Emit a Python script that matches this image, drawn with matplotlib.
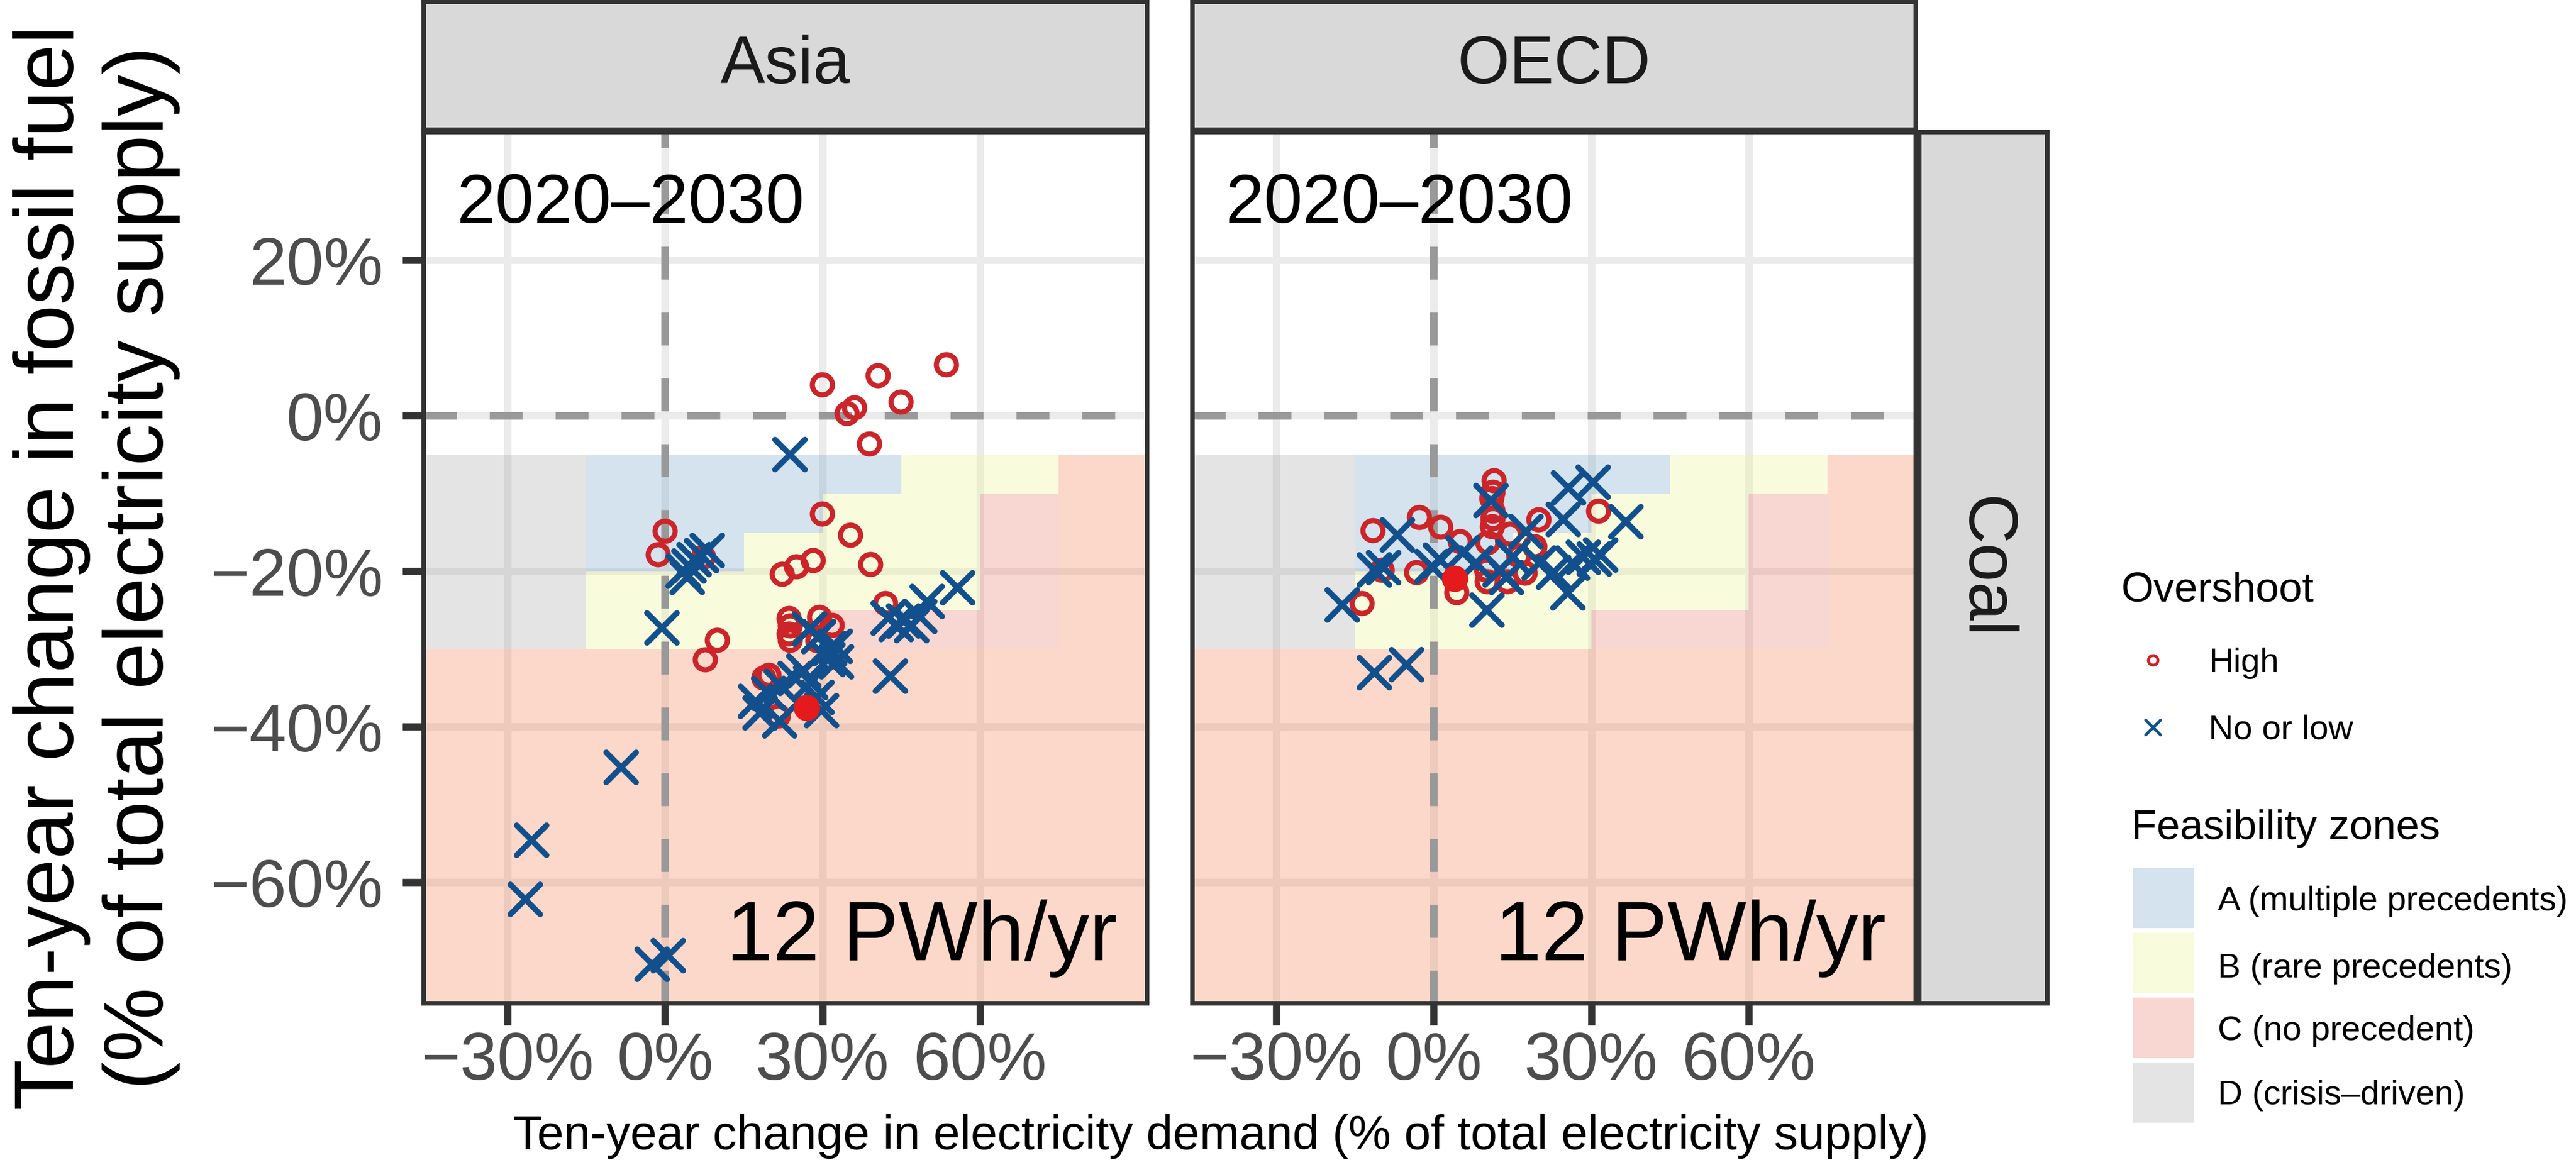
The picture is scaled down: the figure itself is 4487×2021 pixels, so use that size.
import matplotlib
matplotlib.use("Agg")
import matplotlib.pyplot as plt
from matplotlib.colors import ListedColormap, to_rgb
from matplotlib.markers import MarkerStyle
from matplotlib.patches import Rectangle

plt.rcParams['font.family'] = ['Liberation Sans', 'DejaVu Sans']

W, H, DPI = 4487, 2021, 300

# ---- data ---------------------------------------------------------------
regions = ['Asia', 'OECD']
fuel = 'Coal'
period_label = '2020–2030'
volume_label = '12 PWh/yr'

x_ticks = [-30, 0, 30, 60]
x_labels = ['−30%', '0%', '30%', '60%']
y_ticks = [20, 0, -20, -40, -60]
y_labels = ['20%', '0%', '−20%', '−40%', '−60%']

# feasibility zone grid (rows bottom -> top), E = outer "no precedent" area
zone_x_edges = [-50, -30, -15, 0, 15, 30, 45, 60, 75, 100]
zone_y_edges = [-80, -30, -25, -20, -15, -10, -5]
zone_rows = [
    'EEEEEEEEE',
    'DDBBBCCCE',
    'DDBBBBBCE',
    'DDAABBBCE',
    'DDAAABBCE',
    'DDAAAABBE',
]
zone_codes = ['A', 'B', 'C', 'D', 'E']
zone_names = ['A (multiple precedents)', 'B (rare precedents)',
              'C (no precedent)', 'D (crisis–driven)']
zone_colors = ['#D6E4F0', '#FAFCDE', '#F9D7D2', '#E5E5E5', '#FDD9CB']

# Asia
asia_high_x = [29.9, 40.5, 53.6, 44.9, 36.1, 34.6, 38.9, 29.9, 35.3, 39.1, 28.2, 25.0,
               22.3, 0.0, -1.4, 7.3, 42.0, 9.9, 7.6, 23.6, 23.8, 23.6, 23.8, 29.4,
               31.8, 29.1, 18.8, 19.7, 21.5]
asia_high_y = [4.0, 5.2, 6.6, 1.8, 1.1, 0.3, -3.6, -12.6, -15.3, -19.1, -18.6, -19.4,
               -20.3, -14.8, -17.8, -18.1, -24.1, -28.8, -31.3, -26.0, -27.0, -28.0,
               -28.8, -25.9, -26.9, -28.9, -33.7, -33.3, -38.6]
asia_low_x = [-8.4, -25.4, -26.6, -2.5, 0.6, 23.8, -0.6, 3.5, 4.5, 5.5, 7.0, 8.0, 4.2,
              55.7, 50.0, 42.5, 44.0, 45.5, 47.0, 48.5, 42.9, 32.4, 32.7, 17.2, 19.7,
              22.2, 24.8, 26.4, 27.7, 28.9, 29.8, 18.1, 21.8, 27.5, 29.3, 31.4, 31.0]
asia_low_y = [-45.2, -54.6, -62.2, -70.5, -69.4, -5.0, -27.3, -20.0, -19.3, -18.5,
              -18.0, -17.3, -20.8, -22.1, -23.9, -26.0, -26.8, -26.4, -27.0, -25.8,
              -33.5, -29.6, -31.6, -36.7, -35.7, -34.8, -33.8, -32.8, -34.3, -36.2,
              -37.9, -38.2, -39.2, -27.4, -28.4, -29.9, -31.3]
asia_ref = (27.0, -37.5)

# OECD
oecd_high_x = [-11.7, -2.8, 1.3, 5.0, 11.45, 11.2, 11.0, 11.2, 11.2, 11.1, 20.0, 31.3,
               10.2, 19.2, 16.1, 14.5, 17.4, 14.0, 10.1, 10.0, -9.9, -3.3, -13.7, 4.3]
oecd_high_y = [-14.75, -13.0, -14.3, -16.15, -8.3, -9.75, -10.6, -12.2, -13.2, -14.2,
               -13.3, -12.2, -16.3, -16.8, -18.0, -15.2, -20.2, -21.3, -21.3, -19.8,
               -19.8, -20.1, -24.1, -22.7]
oecd_low_x = [-6.9, -9.6, -11.3, -17.4, -11.3, -5.2, 1.3, 10.9, 25.7, 30.4, 24.7, 36.65,
              17.6, 15.1, 22.8, 25.6, 10.1, 28.5, 30.6, 31.8, 26.4, 13.8, 12.6, 8.0,
              20.1, 5.5, -0.4]
oecd_low_y = [-15.3, -19.5, -19.8, -24.3, -33.0, -32.0, -18.6, -10.9, -9.3, -8.5, -13.3,
              -13.6, -14.9, -18.1, -20.1, -22.8, -25.0, -18.2, -18.4, -17.9, -18.9,
              -20.8, -19.8, -18.9, -18.9, -17.6, -19.35]
oecd_ref = (4.0, -20.9)

points = {
    'Asia': (asia_high_x, asia_high_y, asia_low_x, asia_low_y, asia_ref),
    'OECD': (oecd_high_x, oecd_high_y, oecd_low_x, oecd_low_y, oecd_ref),
}

# ---- style --------------------------------------------------------------
RED = '#CC2529'
BLUE = '#11508C'
REF = '#E41A1C'
BORDER = '#333333'
ZONE_ALPHA = 0.3


def base_color(c):
    # colour that gives c on white at ZONE_ALPHA
    r = [(v - (1 - ZONE_ALPHA)) / ZONE_ALPHA for v in to_rgb(c)]
    return tuple(min(1, max(0, v)) for v in r)


zone_cmap = ListedColormap([base_color(c) for c in zone_colors])
zone_grid = [[zone_codes.index(ch) for ch in row] for row in zone_rows]


def box(x0, y0, x1, y1):
    return [x0 / W, 1 - y1 / H, (x1 - x0) / W, (y1 - y0) / H]


fig = plt.figure(figsize=(W / DPI, H / DPI), dpi=DPI)

panel_px = {'Asia': (738, 1998), 'OECD': (2077, 3337)}
top, bottom = 230, 1748
x_mark = MarkerStyle('x', capstyle='round')

for i, reg in enumerate(regions):
    x0, x1 = panel_px[reg]
    ax = fig.add_axes(box(x0, top, x1, bottom))
    ax.set_xlim(-46.0, 91.85)
    ax.set_ylim(-75.54, 36.49)
    ax.set_axisbelow(True)
    ax.grid(True, color='#EBEBEB', lw=3.1)

    ax.pcolormesh(zone_x_edges, zone_y_edges, zone_grid, cmap=zone_cmap,
                  vmin=-0.5, vmax=len(zone_codes) - 0.5, alpha=ZONE_ALPHA,
                  antialiased=False, edgecolors='none', zorder=1)

    ax.axhline(0, color='#999999', lw=3.2, ls=(0, (4.3, 4.3)), zorder=1.5)
    ax.axvline(0, color='#999999', lw=3.2, ls=(0, (4.3, 4.3)), zorder=1.5)

    hx, hy, lx, ly, ref = points[reg]
    ax.plot(hx, hy, ls='none', marker='o', ms=8.4, mfc='none', mec=RED, mew=2.15, zorder=3)
    ax.plot(lx, ly, ls='none', marker=x_mark, ms=12.5, mec=BLUE, mew=2.4, zorder=3)
    ax.plot([ref[0]], [ref[1]], ls='none', marker='o', ms=11, color=REF, mew=0, zorder=4)

    ax.text(0.0456, 0.8959, period_label, transform=ax.transAxes, ha='left',
            va='baseline', fontsize=29, color='black', zorder=5)
    ax.text(0.959, 0.0494, volume_label, transform=ax.transAxes, ha='right',
            va='baseline', fontsize=35, color='black', zorder=5)

    for s in ax.spines.values():
        s.set_color(BORDER)
        s.set_linewidth(1.9)
        s.set_zorder(6)

    ax.set_xticks(x_ticks)
    ax.set_xticklabels(x_labels)
    ax.set_yticks(y_ticks)
    ax.tick_params(axis='both', direction='out', length=9, width=3, color=BORDER,
                   labelsize=28, labelcolor='#4D4D4D')
    ax.tick_params(axis='x', pad=2.5)
    ax.tick_params(axis='y', pad=8)
    if i == 0:
        ax.set_yticklabels(y_labels)
    else:
        ax.tick_params(axis='y', left=False, labelleft=False)

    # strip on top
    sax = fig.add_axes(box(x0, 3, x1, 226))
    sax.set_facecolor('#D9D9D9')
    sax.set_xticks([])
    sax.set_yticks([])
    for s in sax.spines.values():
        s.set_color(BORDER)
        s.set_linewidth(1.9)
    sax.text(0.5, 0.5, reg, transform=sax.transAxes, ha='center', va='center',
             fontsize=28, color='#1A1A1A')

# right strip
rax = fig.add_axes(box(3343, top, 3566, bottom))
rax.set_facecolor('#D9D9D9')
rax.set_xticks([])
rax.set_yticks([])
for s in rax.spines.values():
    s.set_color(BORDER)
    s.set_linewidth(1.9)
rax.text(0.5, 0.5, fuel, transform=rax.transAxes, ha='center', va='center',
         rotation=270, fontsize=29, color='#1A1A1A')

# axis titles
fig.text(168 / W, 1 - 989 / H,
         'Ten-year change in fossil fuel\n(% of total electricity supply)',
         rotation=90, ha='center', va='center', fontsize=35, linespacing=1.18)
fig.text(2127 / W, 1 - 1980 / H,
         'Ten-year change in electricity demand (% of total electricity supply)',
         ha='center', va='center', fontsize=20)

# legends (pixel coordinates, y downwards)
lax = fig.add_axes([0, 0, 1, 1], zorder=10)
lax.set_xlim(0, W)
lax.set_ylim(H, 0)
lax.axis('off')

lax.text(3694, 1048, 'Overshoot', fontsize=17.5, ha='left', va='baseline')
lax.plot([3750], [1150], ls='none', marker='o', ms=4.0, mfc='none', mec=RED, mew=1.2)
lax.text(3847, 1171, 'High', fontsize=14.3, ha='left', va='baseline')
lax.plot([3750], [1267], ls='none', marker=x_mark, ms=6.2, mec=BLUE, mew=1.2)
lax.text(3847, 1287, 'No or low', fontsize=14.3, ha='left', va='baseline')

lax.text(3712, 1462, 'Feasibility zones', fontsize=17.5, ha='left', va='baseline')
sw_top = [1512, 1625, 1738, 1851]
sw_base = [1586, 1703, 1812, 1924]
for k, name in enumerate(zone_names):
    lax.add_patch(Rectangle((3715, sw_top[k]), 106, 105, facecolor=zone_cmap(k),
                            alpha=ZONE_ALPHA, edgecolor='none'))
    lax.text(3863, sw_base[k], name, fontsize=14.3, ha='left', va='baseline')

fig.savefig('out.png', dpi=DPI)
